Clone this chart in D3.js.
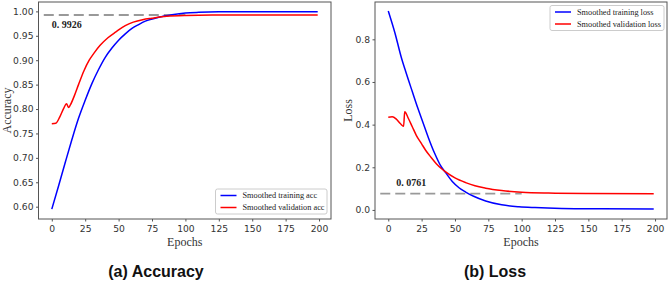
<!DOCTYPE html>
<html>
<head>
<meta charset="utf-8">
<script src="https://cdn.jsdelivr.net/npm/d3@7"></script>
<style>
  body { margin: 0; background: #fff; }
  svg { display: block; }
</style>
</head>
<body>
<div id="chart"></div>
<script>
// values: [epoch, value]
const accTrain = [
  [0, 0.595], [5, 0.642], [10, 0.690], [15, 0.737], [20, 0.781], [25, 0.818],
  [30, 0.852], [35, 0.881], [40, 0.906], [45, 0.925], [50, 0.941], [55, 0.954],
  [60, 0.965], [65, 0.973], [70, 0.980], [80, 0.988], [90, 0.993], [100, 0.9965],
  [110, 0.998], [125, 0.999], [150, 0.9992], [199, 0.9993]
];
const accVal = [
  [0, 0.770], [3, 0.771], [6, 0.784], [9, 0.802], [11, 0.811], [12.5, 0.803],
  [14, 0.809], [17, 0.828], [20, 0.850], [24, 0.878], [28, 0.900], [32, 0.916],
  [36, 0.930], [42, 0.946], [48, 0.958], [55, 0.971], [61, 0.978], [68, 0.983],
  [75, 0.986], [86, 0.9900], [100, 0.9918], [120, 0.9925], [199, 0.9926]
];
const lossTrain = [
  [0, 0.933], [5, 0.830], [10, 0.710], [13, 0.650], [18, 0.555], [22, 0.480],
  [26, 0.410], [30, 0.340], [35, 0.262], [39, 0.210], [43, 0.175], [48, 0.133],
  [53, 0.104], [58, 0.084], [64, 0.064], [73, 0.042], [85, 0.024], [98, 0.015],
  [110, 0.011], [130, 0.007], [160, 0.005], [199, 0.004]
];
const lossVal = [
  [0, 0.435], [3, 0.437], [6, 0.426], [9, 0.405], [11.5, 0.392], [12.3, 0.460],
  [15, 0.430], [18, 0.390], [21, 0.350], [25, 0.310], [28, 0.280], [32, 0.247],
  [36, 0.217], [40, 0.193], [43, 0.178], [50, 0.150], [58, 0.128], [65, 0.113],
  [73, 0.102], [85, 0.091], [100, 0.083], [120, 0.079], [150, 0.077], [199, 0.0761]
];

const xTicks = [0, 25, 50, 75, 100, 125, 150, 175, 200];
const accTicks = [0.60, 0.65, 0.70, 0.75, 0.80, 0.85, 0.90, 0.95, 1.00];
const lossTicks = [0.0, 0.2, 0.4, 0.6, 0.8];

const accLegend = ["Smoothed training acc", "Smoothed validation acc"];
const lossLegend = ["Smoothed training loss", "Smoothed validation loss"];

// best value marker: [value, label x epoch, label y value]
const accBest = [0.9926, 0, 0.9655];
const lossBest = [0.0761, 6, 0.112];

const width = 669;
const height = 281;

const svg = d3.select("#chart")
  .append("svg")
  .attr("width", width)
  .attr("height", height);

const COLORS = ["#0000ff", "#ff0000"];
const SERIF = "'Liberation Serif', 'Times New Roman', serif";
const SANS = "'DejaVu Sans', sans-serif";

function drawPanel(p) {
  const x = d3.scaleLinear().domain([-9.95, 208.95]).range([p.left, p.right]);
  const y = d3.scaleLinear().domain(p.yDomain).range([p.bottom, p.top]);

  const g = svg.append("g");

  // axes
  const xAxis = g.append("g")
    .attr("transform", `translate(0,${p.bottom})`)
    .call(d3.axisBottom(x).tickValues(xTicks).tickFormat(d3.format("d")).tickSize(2.5).tickPadding(3.5));
  const yAxis = g.append("g")
    .attr("transform", `translate(${p.left},0)`)
    .call(d3.axisLeft(y).tickValues(p.yTicks).tickFormat(d3.format(p.yFormat)).tickSize(2.5).tickPadding(2.5));
  [xAxis, yAxis].forEach(a => {
    a.select(".domain").remove();
    a.selectAll(".tick line").attr("stroke", "#555");
    a.selectAll(".tick text")
      .attr("fill", "#333")
      .style("font-family", SANS)
      .style("font-size", "9.2px");
  });

  // best value dashed line
  g.append("line")
    .attr("x1", x(-6))
    .attr("x2", x(100))
    .attr("y1", y(p.best[0]))
    .attr("y2", y(p.best[0]))
    .attr("stroke", "#999")
    .attr("stroke-width", 1.8)
    .attr("stroke-dasharray", "10,5");

  g.append("text")
    .attr("x", x(p.best[1]))
    .attr("y", y(p.best[2]))
    .style("font-family", SERIF)
    .style("font-size", "10px")
    .style("font-weight", "bold")
    .attr("fill", "#222")
    .text(d3.format(".4f")(p.best[0]).replace(".", ". "));

  const line = d3.line()
    .x(d => x(d[0]))
    .y(d => y(d[1]))
    .curve(d3.curveMonotoneX);

  p.series.forEach((s, i) => {
    g.append("path")
      .datum(s)
      .attr("fill", "none")
      .attr("stroke", COLORS[i])
      .attr("stroke-width", 1.5)
      .attr("d", line);
  });

  // frame
  g.append("rect")
    .attr("x", p.left)
    .attr("y", p.top)
    .attr("width", p.right - p.left)
    .attr("height", p.bottom - p.top)
    .attr("fill", "none")
    .attr("stroke", "#555")
    .attr("stroke-width", 1);

  // legend
  const lg = g.append("g").attr("transform", `translate(${p.legend[0]},${p.legend[1]})`);
  lg.append("rect")
    .attr("width", p.legend[2])
    .attr("height", 25)
    .attr("rx", 2)
    .attr("fill", "#fff")
    .attr("fill-opacity", 0.8)
    .attr("stroke", "#ccc");
  p.labels.forEach((lab, i) => {
    const ly = 6.5 + i * 12;
    lg.append("line")
      .attr("x1", 5).attr("x2", 21)
      .attr("y1", ly).attr("y2", ly)
      .attr("stroke", COLORS[i])
      .attr("stroke-width", 1.5);
    lg.append("text")
      .attr("x", 27)
      .attr("y", ly + 2.8)
      .style("font-family", SERIF)
      .style("font-size", "8.3px")
      .attr("fill", "#222")
      .text(lab);
  });

  // axis labels
  g.append("text")
    .attr("x", (p.left + p.right) / 2)
    .attr("y", 245.5)
    .attr("text-anchor", "middle")
    .style("font-family", SERIF)
    .style("font-size", "12px")
    .attr("fill", "#333")
    .text("Epochs");

  g.append("text")
    .attr("transform", `translate(${p.yLabelX},${(p.top + p.bottom) / 2}) rotate(-90)`)
    .attr("text-anchor", "middle")
    .style("font-family", SERIF)
    .style("font-size", "12px")
    .attr("fill", "#333")
    .text(p.yLabel);

  g.append("text")
    .attr("x", p.titleX)
    .attr("y", 276.5)
    .attr("text-anchor", "middle")
    .style("font-family", "'Liberation Sans', Arial, sans-serif")
    .style("font-size", "16px")
    .style("font-weight", "bold")
    .attr("fill", "#111")
    .text(p.title);
}

drawPanel({
  left: 38.5, right: 331, top: 2, bottom: 219,
  yDomain: [0.5748, 1.0192], yTicks: accTicks, yFormat: ".2f",
  series: [accTrain, accVal], best: accBest,
  labels: accLegend, legend: [215.5, 189, 111.5],
  yLabel: "Accuracy", yLabelX: 10.5,
  title: "(a) Accuracy", titleX: 156
});

drawPanel({
  left: 375, right: 667, top: 2, bottom: 219,
  yDomain: [-0.0425, 0.975], yTicks: lossTicks, yFormat: ".1f",
  series: [lossTrain, lossVal], best: lossBest,
  labels: lossLegend, legend: [550, 5.5, 114],
  yLabel: "Loss", yLabelX: 351.5,
  title: "(b) Loss", titleX: 495
});
</script>
</body>
</html>
